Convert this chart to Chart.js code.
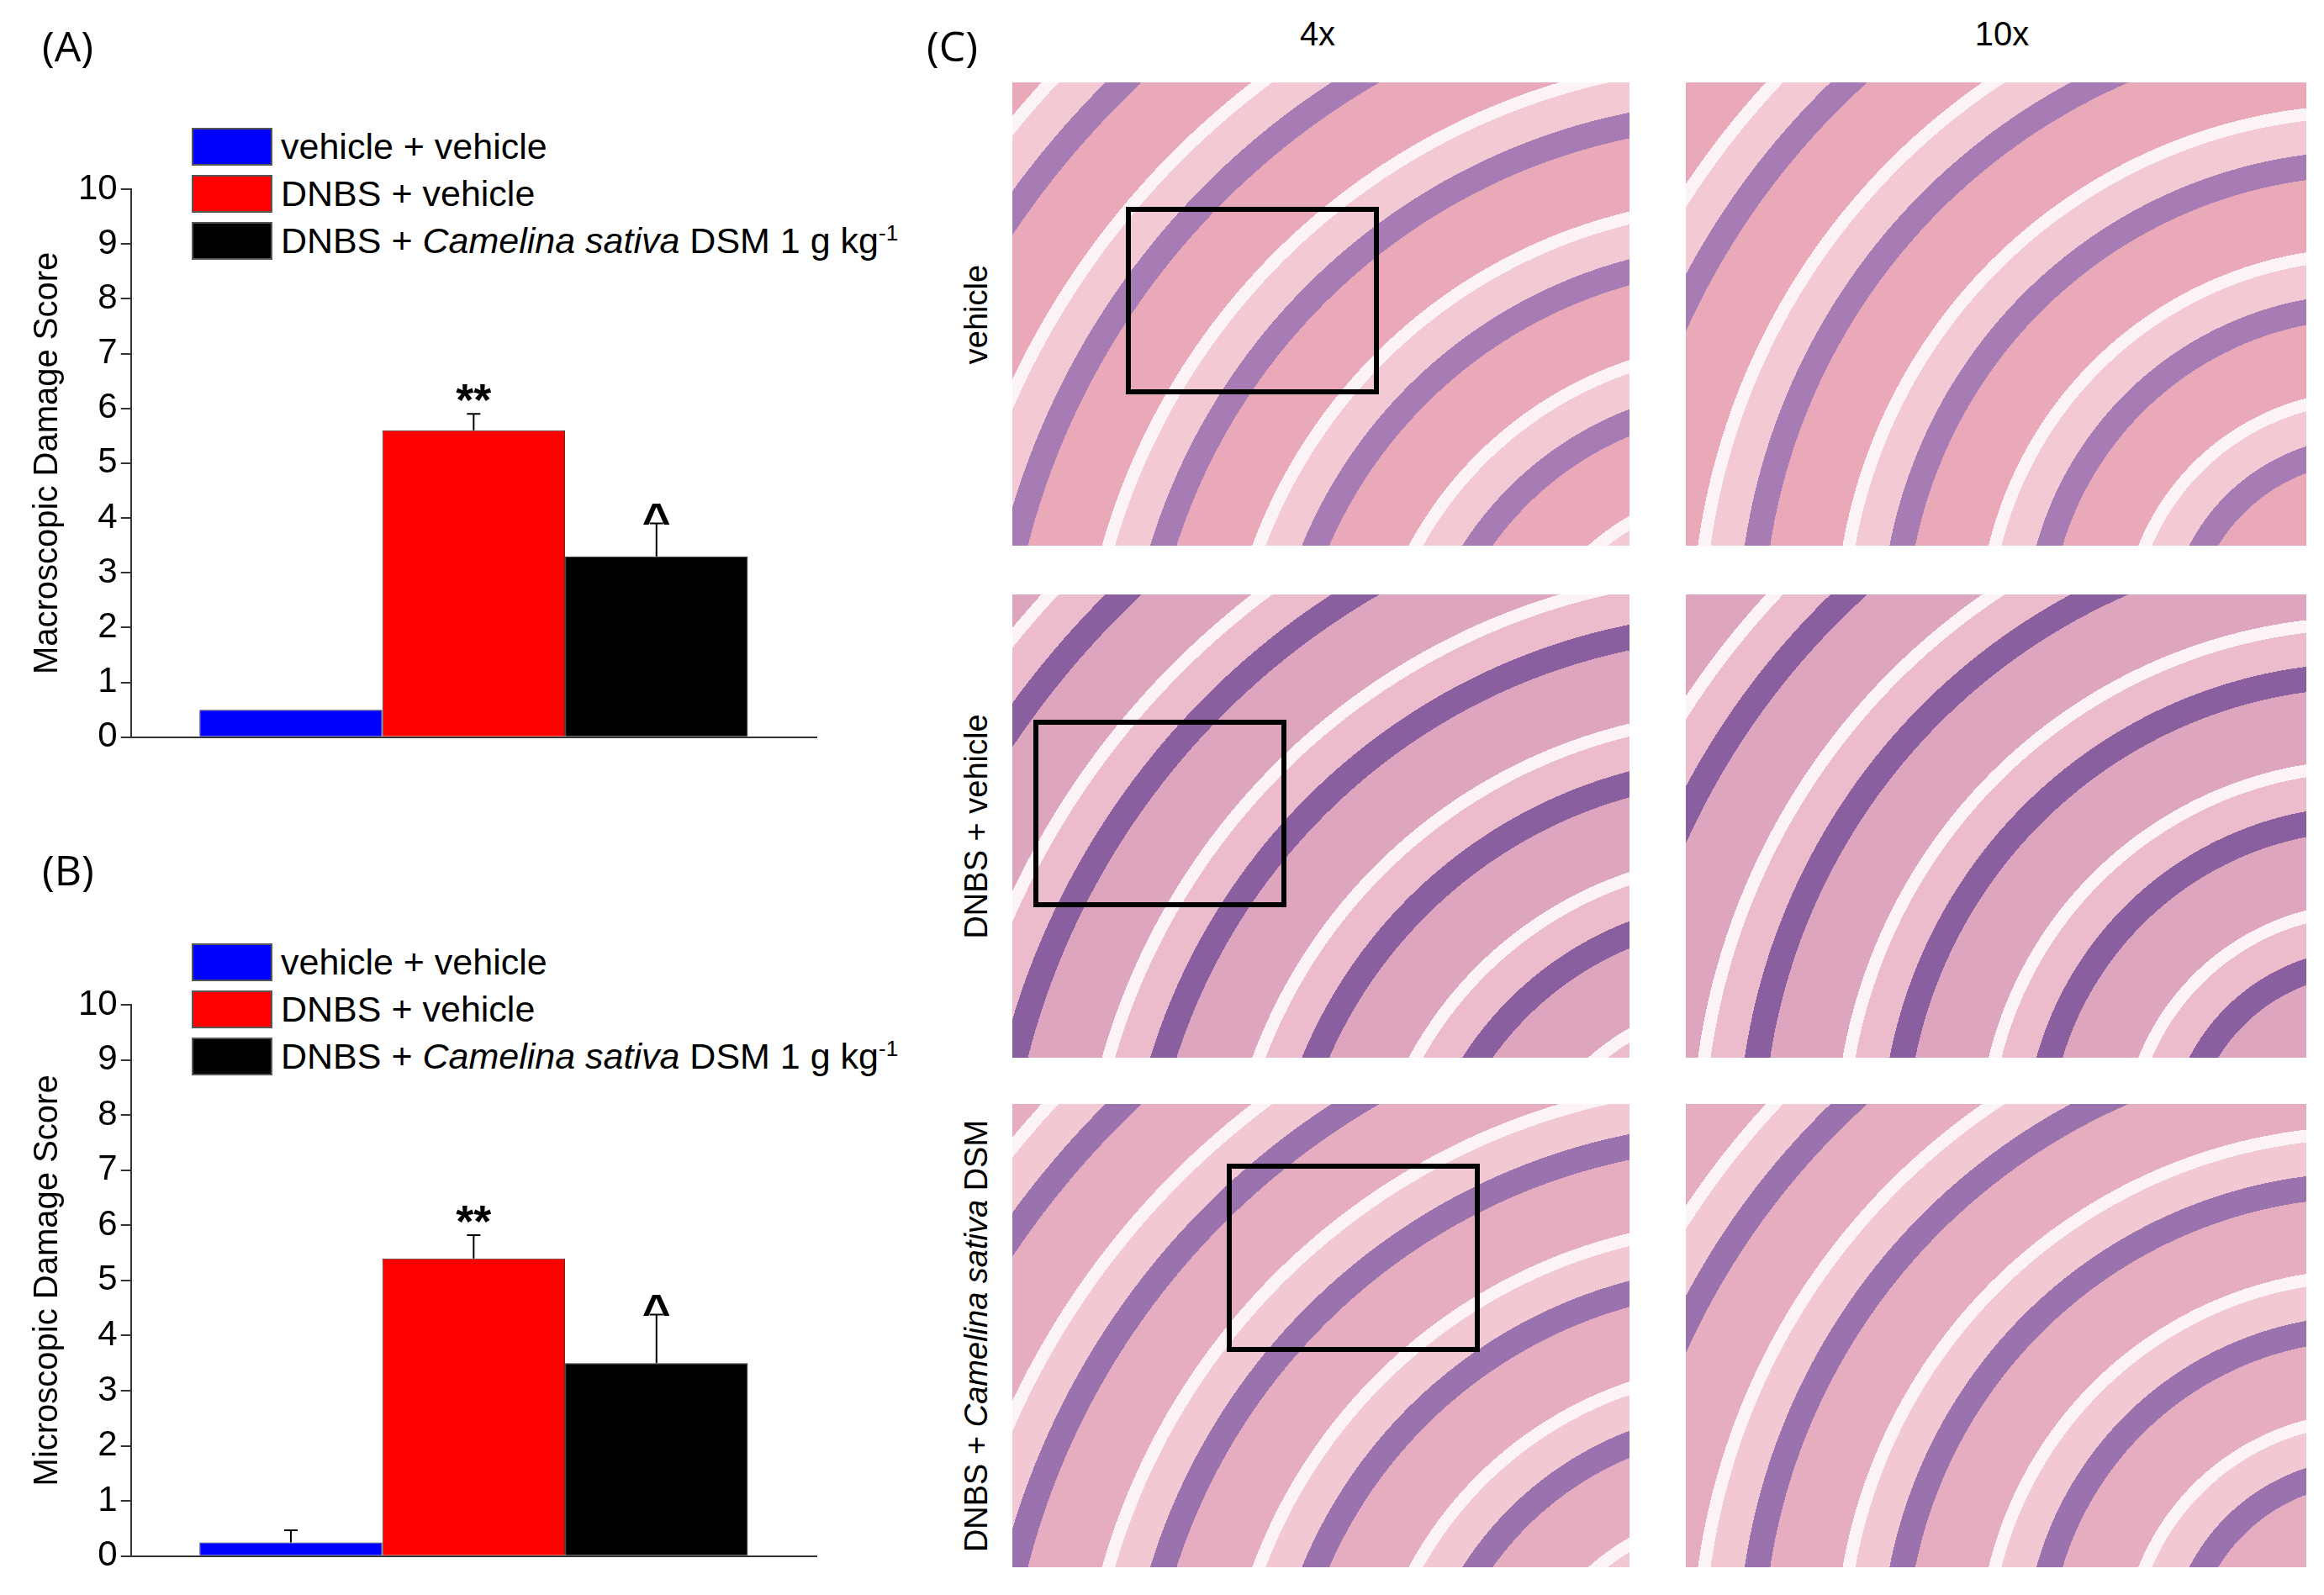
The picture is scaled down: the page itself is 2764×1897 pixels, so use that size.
<!DOCTYPE html>
<html>
<head>
<meta charset="utf-8">
<script src="https://cdn.jsdelivr.net/npm/chart.js@4.4.0/dist/chart.umd.min.js"></script>
<style>
  body { margin: 0; background: #fff; font-family: "Liberation Sans", Arial, sans-serif; }
  #page { position: relative; width: 2764px; height: 1897px; overflow: hidden; }
  .abs { position: absolute; }
  .panel { font-family: "Open Sans", sans-serif; font-size: 50px; }
  .leg { position: absolute; left: 228px; font-size: 43px; line-height: 45px; height: 45px; white-space: nowrap; }
  .leg span.box { display: inline-block; width: 96px; height: 45px; vertical-align: top; margin-right: 10px; box-sizing: border-box; border: 2px solid #555; }
  .img { position: absolute; box-sizing: border-box; overflow: hidden; }
  .frame { position: absolute; border: 6px solid #000; box-sizing: border-box; }
  .rowlab { position: absolute; font-size: 38px; transform: translate(-50%,-50%) rotate(-90deg); white-space: nowrap; }
  .col { position: absolute; font-size: 40px; transform: translateX(-50%); }
</style>
</head>
<body>
<div id="page">
  <div class="abs panel" style="left:50px;top:20px">(A)</div>
  <div class="abs panel" style="left:50px;top:1000px">(B)</div>
  <div class="abs panel" style="left:1102px;top:20px">(C)</div>

  <div id="legA"></div>
  <div id="legB"></div>

  <canvas id="chartA" class="abs"></canvas>
  <canvas id="chartB" class="abs"></canvas>

  <div class="col" style="left:1567px;top:18px">4x</div>
  <div class="col" style="left:2381px;top:18px">10x</div>
  <div id="imgs"></div>
</div>
<script>
const groups = ['vehicle + vehicle', 'DNBS + vehicle', 'DNBS + <i>Camelina sativa</i> DSM 1 g kg<sup style="font-size:26px;line-height:0">-1</sup>'];
const colors = ['#0000ff', '#ff0000', '#000000'];
const yTicks = [0, 1, 2, 3, 4, 5, 6, 7, 8, 9, 10];

const macroMean = [0.5, 5.6, 3.3];
const macroErr  = [0, 0.3, 0.6];
const macroMark = ['', '**', '^'];

const microMean = [0.25, 5.4, 3.5];
const microErr  = [0.22, 0.42, 0.88];
const microMark = ['', '**', '^'];

function legend(id, top) {
  const el = document.getElementById(id);
  groups.forEach((g, i) => {
    const d = document.createElement('div');
    d.className = 'leg';
    d.style.top = (top + i * 56) + 'px';
    d.innerHTML = '<span class="box" style="background:' + colors[i] + '"></span>' + g;
    el.appendChild(d);
  });
}
legend('legA', 152);
legend('legB', 1122);

const errPlugin = {
  id: 'err',
  afterDatasetsDraw(chart) {
    const { ctx } = chart;
    const y = chart.scales.y;
    const o = chart.options.plugins.err;
    chart.data.datasets.forEach((ds, i) => {
      const bar = chart.getDatasetMeta(i).data[0];
      const v = ds.data[0];
      const top = y.getPixelForValue(v + o.err[i]);
      ctx.save();
      ctx.strokeStyle = '#000';
      ctx.lineWidth = 2;
      if (o.err[i] > 0) {
        ctx.beginPath();
        ctx.moveTo(bar.x, bar.y);
        ctx.lineTo(bar.x, top);
        ctx.moveTo(bar.x - 8, top);
        ctx.lineTo(bar.x + 8, top);
        ctx.stroke();
      }
      if (o.mark[i]) {
        ctx.fillStyle = '#000';
        ctx.textAlign = 'center';
        ctx.textBaseline = 'bottom';
        ctx.font = o.mark[i] === '^' ? 'bold 58px "Liberation Sans"' : 'bold 54px "Liberation Sans"';
        ctx.fillText(o.mark[i], bar.x, top + (o.mark[i] === '^' ? 28 : 14));
      }
      ctx.restore();
    });
  }
};

function makeChart(id, top, h, title, means, errs, marks) {
  const c = document.getElementById(id);
  c.width = 1000; c.height = h;
  c.style.left = '0px';
  c.style.top = top + 'px';
  c.style.width = '1000px';
  c.style.height = h + 'px';
  return new Chart(c, {
    type: 'bar',
    data: {
      labels: [''],
      datasets: means.map((m, i) => ({
        label: groups[i],
        data: [m],
        backgroundColor: colors[i],
        borderColor: '#333',
        borderWidth: 1,
        barPercentage: 1,
        categoryPercentage: 0.8
      }))
    },
    options: {
      responsive: false,
      animation: false,
      devicePixelRatio: 1,
      layout: { padding: { top: 65, right: 29, bottom: 0, left: 25 } },
      plugins: {
        legend: { display: false },
        tooltip: { enabled: false },
        err: { err: errs, mark: marks }
      },
      scales: {
        x: {
          grid: { display: false },
          border: { color: '#333', width: 2 },
          ticks: { display: false }
        },
        y: {
          min: 0, max: 10,
          afterBuildTicks: s => { s.ticks = yTicks.map(v => ({ value: v })); },
          grid: { drawOnChartArea: false, color: '#333', tickLength: 12, lineWidth: 2 },
          border: { color: '#333', width: 2 },
          ticks: { color: '#000', font: { size: 42, family: 'Liberation Sans' }, padding: 4 },
          title: { display: true, text: title, color: '#000', font: { size: 40, family: 'Liberation Sans' }, padding: 8 }
        }
      }
    },
    plugins: [errPlugin]
  });
}
makeChart('chartA', 160, 746, 'Macroscopic Damage Score', macroMean, macroErr, macroMark);
makeChart('chartB', 1130, 750, 'Microscopic Damage Score', microMean, microErr, microMark);

// panel C: stylised tissue placeholders
const cols = [1204, 2005];
const colW = [734, 738];
const rows = [98, 707, 1313];
const rowH = 551;
const rowLabels = ['vehicle', 'DNBS + vehicle', 'DNBS + <i>Camelina sativa</i> DSM'];
const frames = [[0.184, 0.268], [0.034, 0.27], [0.347, 0.129]];
const tints = [
  ['#eaa9b9', '#f3c9d3', '#a77bb3'],
  ['#dea5bf', '#ecbccc', '#8a5fa0'],
  ['#e6adc0', '#f2c8d3', '#9a72ae']
];
const imgs = document.getElementById('imgs');
rows.forEach((t, r) => {
  cols.forEach((l, c) => {
    const d = document.createElement('div');
    d.className = 'img';
    d.style.left = l + 'px'; d.style.top = t + 'px';
    d.style.width = colW[c] + 'px'; d.style.height = rowH + 'px';
    const [a, b, p] = tints[r];
    d.style.background =
      'repeating-radial-gradient(circle at ' + (c ? '110% 120%' : '120% 140%') + ', ' + a + ' 0 40px, ' + p + ' 40px 70px, ' + b + ' 70px 110px, #fbf3f5 110px 125px, ' + a + ' 125px 170px)';
    imgs.appendChild(d);
    if (c === 0) {
      const f = document.createElement('div');
      f.className = 'frame';
      f.style.left = (l + frames[r][0] * colW[0]) + 'px';
      f.style.top = (t + frames[r][1] * rowH) + 'px';
      f.style.width = (0.41 * colW[0]) + 'px';
      f.style.height = (0.406 * rowH) + 'px';
      imgs.appendChild(f);
    }
  });
  const lab = document.createElement('div');
  lab.className = 'rowlab';
  lab.style.left = '1161px';
  lab.style.top = (t + rowH / 2) + 'px';
  lab.innerHTML = rowLabels[r];
  imgs.appendChild(lab);
});
</script>
</body>
</html>
